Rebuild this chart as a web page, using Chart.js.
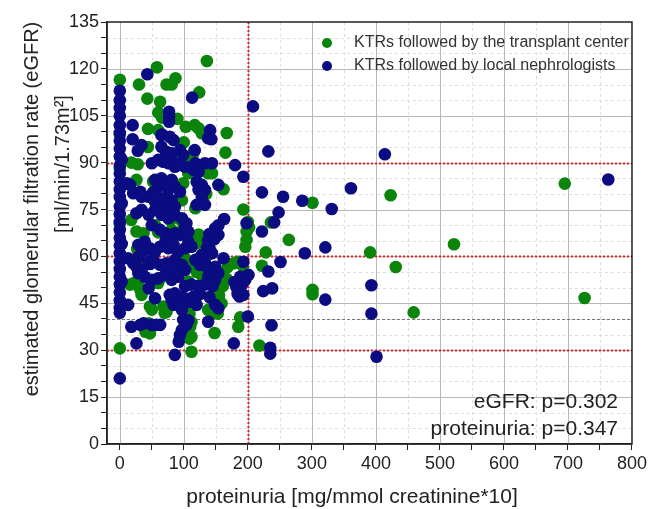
<!DOCTYPE html>
<html>
<head>
<meta charset="utf-8">
<script src="https://cdn.jsdelivr.net/npm/chart.js@4.4.0/dist/chart.umd.min.js"></script>
<style>
  html, body { margin: 0; padding: 0; background: #fff; }
  #wrap { width: 650px; height: 509px; }
</style>
</head>
<body>
<div id="wrap"><canvas id="egfrChart" width="650" height="509"></canvas></div>
<script>
// Values: [proteinuria, eGFR]
const transplantCenter = [
  [0,116.5],[30,115],[43,110.5],[58,120.5],[63,109.5],[73,115],[81,115],[87,117],[124,112.5],[136,122.5],
  [60,106],[66,104.4],[90,104],[44,100.8],[60,100.4],[103,101.5],[117,102],[123,101],[128,99.4],[167,99.5],
  [0,99],[44,95],[100,96.5],[116,93.5],[165,93.2],[110,91.6],[114,92.7],
  [18,90],[28,89.5],[0,88],[99,89],[107,86.6],[138,86.6],[144,86.6],[26,84.5],[52,84],[99,83.4],[162,81.5],[135,80],[97,78],[118,75.4],[193,75],
  [18,71.7],[0,70.4],[26,68],[37,67.4],[55,70],[60,67.7],[79,71.6],[81,68.5],[96,71.5],[99,68.8],[118,66.3],[123,67],[141,65.8],
  [198,68],[198,65.3],[196,63.1],[200,71],[27,62.4],[120,64.2],[138,60.5],
  [32,56.7],[50,58],[102,59.4],[112,57.8],[126,57.8],[168,56.5],[178,57.8],[184,58.3],[192,57],
  [16,51],[22,51.5],[29,50.5],[32,49.5],[60,51.5],[63,53],[76,54.5],[78,55.5],[107,52],[120,55],[128,54],[159,52],[167,52.8],[161,50.5],[150,50],[155,47.5],
  [34,47.7],[47,44],[50,43],[68,44],[70,42],[73,42.3],[107,42.3],[109,41.7],[112,39],[138,42.9],[144,41.8],[148,45],[153,41.7],[159,45],[188,40.5],[185,37.5],
  [40,35.9],[47,35.4],[45,38.6],[110,37.5],[112,34.3],[109,33.7],[148,35.5],[0,30.6],[112,29.5],[218,31.5],
  [202,69.3],[236,70.9],[264,65.3],[228,61.3],[222,57],[301,77.2],[301,49.3],[301,47.9],[391,61.3],[423,79.6],[431,56.6],[459,42.1],[522,63.9],[695,83.3],[726,46.7]
];

const localNephrologists = [
  [0,113],[0,110],[0,107.5],[0,105],[0,102],[0,99.5],[0,97],[0,94.5],[0,92],[0,89],[0,86.5],[0,84],[0,81.5],[0,79],[0,76],
  [0,73.5],[0,71],[0,68.5],[0,66],[0,63.5],[0,61],[0,58.5],[0,56],[0,53.5],[0,51],[0,48.5],[0,46],[0,43.5],[0,42],[0,21],
  [3,91],[3,77],[3,64],[3,52],
  [43,118.3],[113,110.8],[208,108],[77,106.3],[77,104.7],[77,103.1],[20,102],[141,100.4],[66,99],[20,97.5],[65,98.8],[78,98.3],[84,97.2],
  [138,97.8],[143,97.5],[34,95.6],[28,93.8],[65,95.1],[73,93.5],[81,93],[71,91.9],[94,94],[99,92.5],[117,94],[232,93.6],[414,92.7],
  [50,89.8],[60,90.9],[68,90.3],[76,89.8],[81,90.9],[86,88.7],[94,89.8],[102,88.7],[118,89.8],[133,89.8],[144,89.8],[180,89.2],
  [115,87.7],[123,87.1],[193,85.5],[11,83.4],[16,82.9],[55,84.5],[65,85],[60,82.3],[71,82.9],[81,84.5],[76,81.3],[86,82.3],[94,80.7],
  [120,83.9],[128,82.9],[133,81.3],[123,81.3],[154,82.9],[21,80.2],[32,80.7],[34,79.1],[45,79.1],[52,80.5],[55,77.5],[65,78.6],[73,77],
  [81,78],[76,75.4],[65,75.9],[86,75.9],[120,76.5],[133,76.5],[128,79.1],
  [222,80.5],[361,81.8],[255,79.1],[285,77.8],[331,75.2],[248,74.1],[198,70.6],[241,70.9],[222,68],[321,62.9],[289,61],[251,58.2],
  [232,55.2],[224,48.9],[238,49.8],[393,50.8],[321,46.2],[393,41.7],[237,38],[235,30.8],[235,28.9],[401,27.9],[763,84.6],
  [26,73.8],[34,74.9],[45,73.3],[55,74.9],[65,73.3],[76,72.2],[86,73.3],[97,72.2],[104,70.6],[163,72],[50,70],[63,68.5],[71,67.4],
  [78,66.3],[86,67.4],[94,66.9],[102,69.5],[107,67.9],[149,69],[154,70],[144,67.4],[154,66.9],[140,67.2],[138,65.1],[148,65.6],
  [29,63.7],[39,64.7],[47,62.6],[55,61.5],[63,63.1],[71,64.7],[76,62.6],[84,63.7],[91,61.5],[102,62.6],[107,64.7],[112,63.1],
  [136,62.6],[144,61],[128,60.5],[140,62.9],[37,61.9],[29,59.8],[47,57.6],
  [162,59.4],[193,58.3],[13,59.4],[21,57.8],[26,56.7],[34,55.7],[45,58.3],[52,59.4],[63,57.3],[73,57.8],[86,58.9],[84,56.2],[97,57.3],
  [102,55.7],[118,58.9],[125,57.3],[133,57.8],[138,56.2],[149,56.7],[154,54.6],[138,53.5],[149,52.5],[188,53.5],[196,52.5],[201,54.1],
  [29,54.6],[39,53.5],[50,52.5],[60,53],[71,54.1],[81,52.5],[91,53.5],[179,51.8],[182,50.2],[190,50.7],[192,51.5],[187,47.2],
  [102,50.5],[112,51],[122,50.5],[133,51],[145,50.5],
  [13,44.5],[45,49.8],[55,46.6],[81,46.1],[84,44.5],[91,45],[97,42.9],[94,47.1],[86,48.2],[78,47.7],[102,46.6],[110,45.5],[118,46.6],
  [120,44.5],[149,44.5],[154,43.4],[193,47.7],[184,48],[200,40.8],[125,48],[140,47],[114,47],
  [18,37.5],[32,38.1],[37,38.6],[50,38.1],[57,38.1],[63,38.1],[99,39.7],[104,38.1],[97,36.5],[94,34.9],[92,32.7],[107,39.6],[138,39.1],
  [26,32.2],[86,28.5],[178,32.2]
];

const seriesNames = ['KTRs followed by the transplant center', 'KTRs followed by local nephrologists'];
const seriesColors = ['#0a840a', '#0b0b82'];
const xTickLabels = [0, 100, 200, 300, 400, 500, 600, 700, 800];
const yTickLabels = [0, 15, 30, 45, 60, 75, 90, 105, 120, 135];
const redLinesX = [200];
const redLinesY = [90, 60, 30];
const greyLineY = 40;
const pValues = ['eGFR: p=0.302', 'proteinuria: p=0.347'];

const FONT = "'Liberation Sans', Arial, sans-serif";
Chart.defaults.font.family = FONT;

// grid, reference lines, box, legend, p-values and axis titles
const decorations = {
    id: 'decorations',
    beforeDatasetsDraw(chart) {
        const { ctx, chartArea: a, scales: { x, y } } = chart;
        const vLine = v => { const p = Math.round(x.getPixelForValue(v)) + 0.5; ctx.beginPath(); ctx.moveTo(p, a.top); ctx.lineTo(p, a.bottom); ctx.stroke(); };
        const hLine = v => { const p = Math.round(y.getPixelForValue(v)) + 0.5; ctx.beginPath(); ctx.moveTo(a.left, p); ctx.lineTo(a.right, p); ctx.stroke(); };
        ctx.save();
        // minor grid
        ctx.strokeStyle = '#dedede';
        ctx.lineWidth = 1;
        ctx.setLineDash([3, 3]);
        for (let v = 50; v < 800; v += 100) vLine(v);
        for (let v = 5; v < 135; v += 5) if (v % 15) hLine(v);
        // major grid
        ctx.setLineDash([]);
        ctx.strokeStyle = '#b8b8b8';
        xTickLabels.slice(0, -1).forEach(vLine);
        yTickLabels.slice(1, -1).forEach(hLine);
        // grey dashed at 40
        ctx.strokeStyle = '#777';
        ctx.setLineDash([3, 2]);
        hLine(greyLineY);
        // red dotted lines
        ctx.strokeStyle = '#e3262b';
        ctx.lineWidth = 2;
        ctx.setLineDash([2, 2]);
        redLinesX.forEach(vLine);
        redLinesY.forEach(hLine);
        ctx.restore();
    },
    afterDatasetsDraw(chart) {
        const { ctx, chartArea: a } = chart;
        ctx.save();
        // frame
        ctx.strokeStyle = '#222';
        ctx.lineWidth = 1.5;
        ctx.strokeRect(a.left, a.top, a.right - a.left, a.bottom - a.top);
        // legend
        ctx.font = '16px ' + FONT;
        ctx.textBaseline = 'middle';
        ctx.textAlign = 'left';
        seriesNames.forEach((name, i) => {
            const cy = 43 + i * 23;
            ctx.fillStyle = seriesColors[i];
            ctx.beginPath();
            ctx.arc(327, cy, 5, 0, Math.PI * 2);
            ctx.fill();
            ctx.fillStyle = '#333';
            ctx.fillText(name, 354, cy);
        });
        // p-values
        ctx.font = '21px ' + FONT;
        ctx.fillStyle = '#222';
        ctx.textAlign = 'right';
        pValues.forEach((t, i) => ctx.fillText(t, 618, 402 + i * 27));
        // x title
        ctx.font = '21px ' + FONT;
        ctx.textAlign = 'center';
        ctx.fillText('proteinuria [mg/mmol creatinine*10]', 352, 497);
        // y title
        ctx.font = '20px ' + FONT;
        ctx.translate(32, 209);
        ctx.rotate(-Math.PI / 2);
        ctx.fillText('estimated glomerular filtration rate (eGFR)', 0, 0);
        ctx.fillText('[ml/min/1.73m\u00B2]', 45, 31);
        ctx.restore();
    }
};

const toPoints = arr => arr.map(p => ({ x: p[0], y: p[1] }));

new Chart(document.getElementById('egfrChart'), {
    type: 'scatter',
    data: {
        datasets: [{
            label: seriesNames[0],
            data: toPoints(transplantCenter),
            backgroundColor: seriesColors[0],
            borderWidth: 0,
            pointRadius: 6.3,
            order: 2
        }, {
            label: seriesNames[1],
            data: toPoints(localNephrologists),
            backgroundColor: seriesColors[1],
            borderWidth: 0,
            pointRadius: 6.3,
            order: 1
        }]
    },
    options: {
        responsive: false,
        animation: false,
        devicePixelRatio: 1,
        layout: { padding: { top: 22, right: 18, left: 0, bottom: 0 } },
        plugins: {
            legend: { display: false },
            tooltip: { enabled: false }
        },
        scales: {
            x: {
                type: 'linear',
                min: -20,
                max: 800,
                afterFit: s => { s.height = 65; },
                ticks: {
                    stepSize: 50,
                    includeBounds: false,
                    autoSkip: false,
                    maxRotation: 0,
                    padding: 3,
                    color: '#222',
                    font: { size: 18 },
                    callback: v => xTickLabels.includes(v) ? v : ''
                },
                grid: { drawOnChartArea: false, drawTicks: true, tickLength: 6, tickColor: '#222' },
                border: { display: true, color: '#222', width: 1.5 }
            },
            y: {
                min: 0,
                max: 135,
                afterFit: s => { s.width = 107; },
                ticks: {
                    stepSize: 5,
                    autoSkip: false,
                    padding: 2,
                    color: '#222',
                    font: { size: 18 },
                    callback: v => yTickLabels.includes(v) ? v : ''
                },
                grid: { drawOnChartArea: false, drawTicks: true, tickLength: 6, tickColor: '#222' },
                border: { display: true, color: '#222', width: 1.5 }
            }
        }
    },
    plugins: [decorations]
});
</script>
</body>
</html>
